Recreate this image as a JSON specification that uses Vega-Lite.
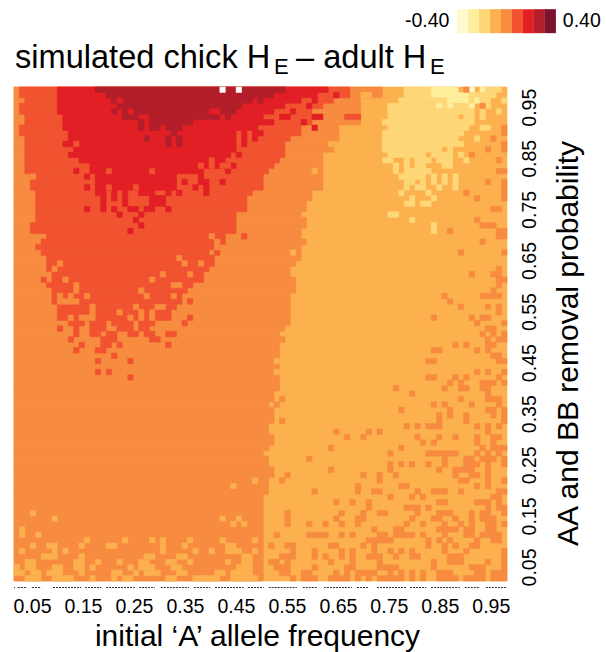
{"$schema":"https://vega.github.io/schema/vega-lite/v6.json","width":493,"height":494,"padding":{"left":13,"top":9,"right":0,"bottom":0},"background":"white","config":{"font":"Liberation Sans","view":{"stroke":null}},
"layer":[
{"mark":{"type":"rect","strokeWidth":0.6},"data":{"values":[
{"x":5,"x2":96,"y":5,"y2":96,"c":4},
{"x":5,"x2":73,"y":94,"y2":96,"c":5},{"x":5,"x2":69,"y":89,"y2":94,"c":5},{"x":5,"x2":65,"y":86,"y2":89,"c":5},{"x":5,"x2":64,"y":84,"y2":86,"c":5},{"x":5,"x2":62,"y":77,"y2":84,"c":5},{"x":5,"x2":60,"y":75,"y2":77,"c":5},{"x":5,"x2":59,"y":73,"y2":75,"c":5},{"x":5,"x2":58,"y":72,"y2":73,"c":5},{"x":5,"x2":59,"y":70,"y2":72,"c":5},{"x":5,"x2":58,"y":68,"y2":70,"c":5},{"x":5,"x2":59,"y":67,"y2":68,"c":5},{"x":5,"x2":58,"y":64,"y2":67,"c":5},{"x":5,"x2":57,"y":63,"y2":64,"c":5},{"x":5,"x2":56,"y":61,"y2":63,"c":5},{"x":5,"x2":57,"y":58,"y2":61,"c":5},{"x":5,"x2":56,"y":52,"y2":58,"c":5},{"x":5,"x2":55,"y":51,"y2":52,"c":5},{"x":5,"x2":54,"y":50,"y2":51,"c":5},{"x":5,"x2":55,"y":49,"y2":50,"c":5},{"x":5,"x2":54,"y":40,"y2":49,"c":5},{"x":5,"x2":53,"y":38,"y2":40,"c":5},{"x":5,"x2":52,"y":37,"y2":38,"c":5},{"x":5,"x2":53,"y":34,"y2":37,"c":5},{"x":5,"x2":52,"y":32,"y2":34,"c":5},{"x":5,"x2":53,"y":30,"y2":32,"c":5},{"x":5,"x2":52,"y":29,"y2":30,"c":5},{"x":5,"x2":51,"y":28,"y2":29,"c":5},{"x":5,"x2":52,"y":26,"y2":28,"c":5},{"x":5,"x2":53,"y":24,"y2":26,"c":5},{"x":5,"x2":52,"y":21,"y2":24,"c":5},{"x":5,"x2":51,"y":5,"y2":21,"c":5},
{"x":69,"x2":71,"y":94,"y2":95,"c":4},{"x":63,"x2":64,"y":85,"y2":86,"c":4},{"x":60,"x2":61,"y":80,"y2":81,"c":4},{"x":56,"x2":57,"y":65,"y2":66,"c":4},{"x":53,"x2":54,"y":45,"y2":46,"c":4},{"x":53,"x2":54,"y":43,"y2":44,"c":4},
{"x":45,"x2":46,"y":22,"y2":23,"c":4},{"x":49,"x2":50,"y":23,"y2":24,"c":4},{"x":8,"x2":9,"y":17,"y2":18,"c":4},{"x":12,"x2":13,"y":16,"y2":17,"c":4},{"x":43,"x2":44,"y":16,"y2":17,"c":4},{"x":46,"x2":47,"y":16,"y2":17,"c":4},{"x":45,"x2":46,"y":15,"y2":16,"c":4},{"x":47,"x2":48,"y":15,"y2":16,"c":4},{"x":6,"x2":7,"y":14,"y2":15,"c":4},{"x":6,"x2":7,"y":13,"y2":14,"c":4},{"x":9,"x2":10,"y":13,"y2":14,"c":4},
{"x":18,"x2":19,"y":12,"y2":13,"c":4},{"x":25,"x2":26,"y":12,"y2":13,"c":4},{"x":30,"x2":31,"y":12,"y2":13,"c":4},{"x":32,"x2":33,"y":12,"y2":13,"c":4},{"x":37,"x2":38,"y":12,"y2":13,"c":4},{"x":43,"x2":44,"y":12,"y2":13,"c":4},{"x":49,"x2":50,"y":12,"y2":13,"c":4},
{"x":8,"x2":9,"y":11,"y2":12,"c":4},{"x":11,"x2":13,"y":11,"y2":12,"c":4},{"x":17,"x2":18,"y":11,"y2":12,"c":4},{"x":22,"x2":24,"y":11,"y2":12,"c":4},{"x":32,"x2":33,"y":11,"y2":12,"c":4},{"x":36,"x2":37,"y":11,"y2":12,"c":4},{"x":44,"x2":46,"y":11,"y2":12,"c":4},
{"x":6,"x2":7,"y":10,"y2":11,"c":4},{"x":12,"x2":13,"y":10,"y2":11,"c":4},{"x":14,"x2":15,"y":10,"y2":11,"c":4},{"x":32,"x2":33,"y":10,"y2":11,"c":4},{"x":38,"x2":39,"y":10,"y2":11,"c":4},{"x":41,"x2":42,"y":10,"y2":11,"c":4},{"x":44,"x2":47,"y":10,"y2":11,"c":4},{"x":49,"x2":50,"y":10,"y2":11,"c":4},
{"x":10,"x2":13,"y":9,"y2":10,"c":4},{"x":17,"x2":18,"y":9,"y2":10,"c":4},{"x":29,"x2":31,"y":9,"y2":10,"c":4},{"x":35,"x2":37,"y":9,"y2":10,"c":4},{"x":47,"x2":49,"y":9,"y2":10,"c":4},
{"x":7,"x2":9,"y":8,"y2":9,"c":4},{"x":16,"x2":18,"y":8,"y2":9,"c":4},{"x":20,"x2":21,"y":8,"y2":9,"c":4},{"x":24,"x2":25,"y":8,"y2":9,"c":4},{"x":28,"x2":30,"y":8,"y2":9,"c":4},{"x":33,"x2":35,"y":8,"y2":9,"c":4},{"x":37,"x2":38,"y":8,"y2":9,"c":4},{"x":44,"x2":45,"y":8,"y2":9,"c":4},{"x":47,"x2":49,"y":8,"y2":9,"c":4},
{"x":5,"x2":6,"y":7,"y2":8,"c":4},{"x":7,"x2":9,"y":7,"y2":8,"c":4},{"x":12,"x2":14,"y":7,"y2":8,"c":4},{"x":16,"x2":18,"y":7,"y2":8,"c":4},{"x":19,"x2":20,"y":7,"y2":8,"c":4},{"x":26,"x2":27,"y":7,"y2":8,"c":4},{"x":28,"x2":31,"y":7,"y2":8,"c":4},{"x":34,"x2":36,"y":7,"y2":8,"c":4},{"x":46,"x2":49,"y":7,"y2":8,"c":4},
{"x":5,"x2":7,"y":6,"y2":7,"c":4},{"x":8,"x2":10,"y":6,"y2":7,"c":4},{"x":11,"x2":14,"y":6,"y2":7,"c":4},{"x":17,"x2":18,"y":6,"y2":7,"c":4},{"x":23,"x2":25,"y":6,"y2":7,"c":4},{"x":27,"x2":28,"y":6,"y2":7,"c":4},{"x":29,"x2":32,"y":6,"y2":7,"c":4},{"x":35,"x2":37,"y":6,"y2":7,"c":4},{"x":42,"x2":44,"y":6,"y2":7,"c":4},{"x":45,"x2":49,"y":6,"y2":7,"c":4},
{"x":7,"x2":10,"y":5,"y2":6,"c":4},{"x":12,"x2":16,"y":5,"y2":6,"c":4},{"x":19,"x2":20,"y":5,"y2":6,"c":4},{"x":23,"x2":24,"y":5,"y2":6,"c":4},{"x":25,"x2":27,"y":5,"y2":6,"c":4},{"x":33,"x2":35,"y":5,"y2":6,"c":4},{"x":38,"x2":43,"y":5,"y2":6,"c":4},{"x":45,"x2":50,"y":5,"y2":6,"c":4},
{"x":77,"x2":82,"y":95,"y2":96,"c":3},{"x":82,"x2":87,"y":95,"y2":96,"c":2},{"x":89,"x2":90,"y":95,"y2":96,"c":1},{"x":91,"x2":92,"y":95,"y2":96,"c":2},{"x":92,"x2":95,"y":95,"y2":96,"c":3},
{"x":77,"x2":82,"y":94,"y2":95,"c":3},{"x":82,"x2":89,"y":94,"y2":95,"c":2},{"x":89,"x2":94,"y":94,"y2":95,"c":3},
{"x":76,"x2":85,"y":93,"y2":94,"c":3},{"x":85,"x2":89,"y":93,"y2":94,"c":2},{"x":89,"x2":90,"y":93,"y2":94,"c":3},{"x":90,"x2":91,"y":93,"y2":94,"c":2},{"x":91,"x2":93,"y":93,"y2":94,"c":3},{"x":95,"x2":96,"y":93,"y2":94,"c":3},
{"x":74,"x2":89,"y":92,"y2":93,"c":3},{"x":83,"x2":84,"y":92,"y2":93,"c":2},{"x":85,"x2":86,"y":92,"y2":93,"c":2},{"x":89,"x2":90,"y":92,"y2":93,"c":2},{"x":92,"x2":93,"y":92,"y2":93,"c":3},
{"x":74,"x2":90,"y":91,"y2":92,"c":3},{"x":91,"x2":92,"y":91,"y2":92,"c":3},{"x":94,"x2":95,"y":91,"y2":92,"c":3},
{"x":74,"x2":87,"y":90,"y2":91,"c":3},{"x":88,"x2":90,"y":90,"y2":91,"c":3},{"x":91,"x2":92,"y":90,"y2":91,"c":3},
{"x":73,"x2":90,"y":89,"y2":90,"c":3},{"x":74,"x2":89,"y":88,"y2":89,"c":3},{"x":91,"x2":93,"y":88,"y2":89,"c":3},{"x":73,"x2":88,"y":87,"y2":88,"c":3},{"x":73,"x2":87,"y":86,"y2":87,"c":3},{"x":90,"x2":91,"y":86,"y2":87,"c":3},{"x":73,"x2":88,"y":85,"y2":86,"c":3},{"x":73,"x2":84,"y":84,"y2":85,"c":3},{"x":85,"x2":86,"y":84,"y2":85,"c":3},
{"x":74,"x2":81,"y":83,"y2":84,"c":3},{"x":82,"x2":86,"y":83,"y2":84,"c":3},{"x":87,"x2":88,"y":83,"y2":84,"c":3},
{"x":73,"x2":75,"y":82,"y2":83,"c":3},{"x":77,"x2":78,"y":82,"y2":83,"c":3},{"x":79,"x2":82,"y":82,"y2":83,"c":3},{"x":83,"x2":84,"y":82,"y2":83,"c":3},{"x":84,"x2":86,"y":82,"y2":83,"c":3},{"x":88,"x2":89,"y":82,"y2":83,"c":3},
{"x":75,"x2":76,"y":81,"y2":82,"c":3},{"x":77,"x2":78,"y":81,"y2":82,"c":3},{"x":79,"x2":81,"y":81,"y2":82,"c":3},{"x":84,"x2":86,"y":81,"y2":82,"c":3},
{"x":75,"x2":76,"y":80,"y2":81,"c":3},{"x":77,"x2":82,"y":80,"y2":81,"c":3},
{"x":76,"x2":81,"y":79,"y2":80,"c":3},{"x":82,"x2":83,"y":79,"y2":80,"c":3},{"x":84,"x2":85,"y":79,"y2":80,"c":3},{"x":86,"x2":87,"y":79,"y2":80,"c":3},
{"x":77,"x2":79,"y":78,"y2":79,"c":3},{"x":80,"x2":81,"y":78,"y2":79,"c":3},{"x":82,"x2":83,"y":78,"y2":79,"c":3},{"x":84,"x2":85,"y":78,"y2":79,"c":3},{"x":86,"x2":87,"y":78,"y2":79,"c":3},
{"x":77,"x2":78,"y":77,"y2":78,"c":3},{"x":79,"x2":81,"y":77,"y2":78,"c":3},{"x":83,"x2":84,"y":77,"y2":78,"c":3},{"x":86,"x2":87,"y":77,"y2":78,"c":3},
{"x":76,"x2":77,"y":76,"y2":77,"c":3},{"x":81,"x2":82,"y":76,"y2":77,"c":3},{"x":78,"x2":79,"y":75,"y2":76,"c":3},{"x":82,"x2":83,"y":75,"y2":76,"c":3},{"x":77,"x2":79,"y":74,"y2":75,"c":3},{"x":80,"x2":82,"y":74,"y2":75,"c":3},{"x":74,"x2":76,"y":72,"y2":73,"c":3},{"x":78,"x2":79,"y":71,"y2":72,"c":3},{"x":82,"x2":83,"y":70,"y2":71,"c":3},{"x":82,"x2":83,"y":69,"y2":70,"c":3},
{"x":88,"x2":89,"y":95,"y2":96,"c":5},{"x":91,"x2":92,"y":92,"y2":93,"c":5},{"x":95,"x2":96,"y":88,"y2":89,"c":5},{"x":95,"x2":96,"y":87,"y2":88,"c":5},{"x":93,"x2":94,"y":86,"y2":87,"c":5},{"x":95,"x2":96,"y":85,"y2":86,"c":5},{"x":92,"x2":93,"y":84,"y2":85,"c":5},{"x":95,"x2":96,"y":84,"y2":85,"c":5},{"x":89,"x2":90,"y":83,"y2":84,"c":5},{"x":94,"x2":95,"y":82,"y2":83,"c":5},{"x":94,"x2":96,"y":80,"y2":81,"c":5},{"x":92,"x2":93,"y":78,"y2":79,"c":5},{"x":95,"x2":96,"y":78,"y2":79,"c":5},{"x":95,"x2":96,"y":77,"y2":78,"c":5},{"x":88,"x2":89,"y":76,"y2":77,"c":5},{"x":95,"x2":96,"y":76,"y2":77,"c":5},{"x":90,"x2":91,"y":75,"y2":76,"c":5},{"x":95,"x2":96,"y":75,"y2":76,"c":5},
{"x":93,"x2":95,"y":73,"y2":74,"c":5},{"x":90,"x2":91,"y":71,"y2":72,"c":5},{"x":91,"x2":94,"y":70,"y2":71,"c":5},{"x":85,"x2":86,"y":69,"y2":70,"c":5},{"x":94,"x2":96,"y":69,"y2":70,"c":5},{"x":94,"x2":96,"y":68,"y2":69,"c":5},{"x":91,"x2":92,"y":67,"y2":68,"c":5},{"x":87,"x2":88,"y":65,"y2":66,"c":5},{"x":95,"x2":96,"y":65,"y2":66,"c":5},{"x":94,"x2":95,"y":62,"y2":63,"c":5},{"x":89,"x2":90,"y":61,"y2":62,"c":5},{"x":93,"x2":95,"y":61,"y2":62,"c":5},{"x":94,"x2":96,"y":60,"y2":61,"c":5},{"x":94,"x2":95,"y":59,"y2":60,"c":5},{"x":93,"x2":94,"y":58,"y2":59,"c":5},{"x":84,"x2":85,"y":57,"y2":58,"c":5},{"x":91,"x2":95,"y":57,"y2":58,"c":5},{"x":85,"x2":86,"y":56,"y2":57,"c":5},{"x":87,"x2":88,"y":55,"y2":56,"c":5},{"x":92,"x2":93,"y":55,"y2":56,"c":5},{"x":94,"x2":95,"y":55,"y2":56,"c":5},{"x":94,"x2":95,"y":54,"y2":55,"c":5},{"x":82,"x2":83,"y":53,"y2":54,"c":5},{"x":89,"x2":90,"y":53,"y2":54,"c":5},{"x":91,"x2":93,"y":53,"y2":54,"c":5},{"x":90,"x2":91,"y":52,"y2":53,"c":5},{"x":95,"x2":96,"y":52,"y2":53,"c":5},{"x":92,"x2":94,"y":51,"y2":52,"c":5},{"x":91,"x2":92,"y":50,"y2":51,"c":5},{"x":93,"x2":94,"y":50,"y2":51,"c":5},{"x":95,"x2":96,"y":50,"y2":51,"c":5},{"x":92,"x2":93,"y":49,"y2":50,"c":5},{"x":94,"x2":96,"y":49,"y2":50,"c":5},{"x":86,"x2":87,"y":48,"y2":49,"c":5},{"x":88,"x2":89,"y":48,"y2":49,"c":5},{"x":92,"x2":94,"y":48,"y2":49,"c":5},{"x":82,"x2":84,"y":47,"y2":48,"c":5},{"x":90,"x2":91,"y":47,"y2":48,"c":5},{"x":92,"x2":93,"y":47,"y2":48,"c":5},{"x":93,"x2":95,"y":46,"y2":47,"c":5},{"x":81,"x2":83,"y":45,"y2":46,"c":5},{"x":94,"x2":96,"y":45,"y2":46,"c":5},{"x":90,"x2":91,"y":43,"y2":44,"c":5},{"x":92,"x2":93,"y":43,"y2":44,"c":5},{"x":95,"x2":96,"y":43,"y2":44,"c":5},{"x":81,"x2":83,"y":42,"y2":43,"c":5},{"x":86,"x2":87,"y":42,"y2":43,"c":5},{"x":88,"x2":89,"y":42,"y2":43,"c":5},{"x":94,"x2":95,"y":42,"y2":43,"c":5},{"x":85,"x2":86,"y":41,"y2":42,"c":5},{"x":87,"x2":88,"y":41,"y2":42,"c":5},{"x":91,"x2":94,"y":41,"y2":42,"c":5},{"x":95,"x2":96,"y":41,"y2":42,"c":5},
{"x":75,"x2":76,"y":40,"y2":41,"c":5},{"x":84,"x2":85,"y":40,"y2":41,"c":5},{"x":87,"x2":89,"y":40,"y2":41,"c":5},{"x":91,"x2":93,"y":40,"y2":41,"c":5},{"x":78,"x2":79,"y":39,"y2":40,"c":5},{"x":92,"x2":93,"y":39,"y2":40,"c":5},{"x":54,"x2":55,"y":38,"y2":39,"c":5},{"x":87,"x2":88,"y":38,"y2":39,"c":5},{"x":92,"x2":95,"y":38,"y2":39,"c":5},{"x":53,"x2":54,"y":37,"y2":38,"c":5},{"x":82,"x2":83,"y":37,"y2":38,"c":5},{"x":84,"x2":85,"y":37,"y2":38,"c":5},{"x":89,"x2":90,"y":37,"y2":38,"c":5},{"x":94,"x2":95,"y":37,"y2":38,"c":5},{"x":76,"x2":77,"y":36,"y2":37,"c":5},{"x":85,"x2":86,"y":36,"y2":37,"c":5},{"x":92,"x2":94,"y":36,"y2":37,"c":5},{"x":95,"x2":96,"y":36,"y2":37,"c":5},{"x":83,"x2":84,"y":35,"y2":36,"c":5},{"x":85,"x2":86,"y":35,"y2":36,"c":5},{"x":88,"x2":89,"y":35,"y2":36,"c":5},{"x":93,"x2":94,"y":35,"y2":36,"c":5},{"x":95,"x2":96,"y":35,"y2":36,"c":5},{"x":54,"x2":55,"y":34,"y2":35,"c":5},{"x":83,"x2":84,"y":34,"y2":35,"c":5},{"x":88,"x2":89,"y":34,"y2":35,"c":5},{"x":95,"x2":96,"y":34,"y2":35,"c":5},{"x":77,"x2":78,"y":33,"y2":34,"c":5},{"x":79,"x2":80,"y":33,"y2":34,"c":5},{"x":81,"x2":84,"y":33,"y2":34,"c":5},{"x":90,"x2":91,"y":33,"y2":34,"c":5},{"x":92,"x2":93,"y":33,"y2":34,"c":5},{"x":94,"x2":95,"y":33,"y2":34,"c":5},{"x":64,"x2":65,"y":32,"y2":33,"c":5},{"x":70,"x2":71,"y":32,"y2":33,"c":5},{"x":72,"x2":73,"y":32,"y2":33,"c":5},{"x":92,"x2":93,"y":32,"y2":33,"c":5},{"x":66,"x2":67,"y":31,"y2":32,"c":5},{"x":69,"x2":70,"y":31,"y2":32,"c":5},{"x":79,"x2":80,"y":31,"y2":32,"c":5},{"x":83,"x2":84,"y":31,"y2":32,"c":5},{"x":86,"x2":87,"y":31,"y2":32,"c":5},{"x":90,"x2":91,"y":31,"y2":32,"c":5},{"x":93,"x2":95,"y":31,"y2":32,"c":5},{"x":80,"x2":81,"y":30,"y2":31,"c":5},{"x":82,"x2":83,"y":30,"y2":31,"c":5},{"x":90,"x2":91,"y":30,"y2":31,"c":5},{"x":93,"x2":94,"y":30,"y2":31,"c":5},{"x":63,"x2":64,"y":29,"y2":30,"c":5},{"x":76,"x2":77,"y":29,"y2":30,"c":5},{"x":91,"x2":92,"y":29,"y2":30,"c":5},{"x":93,"x2":96,"y":29,"y2":30,"c":5},{"x":74,"x2":75,"y":28,"y2":29,"c":5},{"x":81,"x2":87,"y":28,"y2":29,"c":5},{"x":90,"x2":91,"y":28,"y2":29,"c":5},{"x":92,"x2":93,"y":28,"y2":29,"c":5},{"x":94,"x2":95,"y":28,"y2":29,"c":5},{"x":59,"x2":60,"y":27,"y2":28,"c":5},{"x":84,"x2":85,"y":27,"y2":28,"c":5},{"x":88,"x2":90,"y":27,"y2":28,"c":5},{"x":91,"x2":94,"y":27,"y2":28,"c":5},{"x":95,"x2":96,"y":27,"y2":28,"c":5},
{"x":74,"x2":75,"y":26,"y2":27,"c":5},{"x":76,"x2":77,"y":26,"y2":27,"c":5},{"x":78,"x2":79,"y":26,"y2":27,"c":5},{"x":81,"x2":82,"y":26,"y2":27,"c":5},{"x":84,"x2":85,"y":26,"y2":27,"c":5},{"x":88,"x2":91,"y":26,"y2":27,"c":5},{"x":92,"x2":93,"y":26,"y2":27,"c":5},{"x":95,"x2":96,"y":26,"y2":27,"c":5},
{"x":63,"x2":64,"y":25,"y2":26,"c":5},{"x":74,"x2":75,"y":25,"y2":26,"c":5},{"x":83,"x2":84,"y":25,"y2":26,"c":5},{"x":86,"x2":90,"y":25,"y2":26,"c":5},{"x":92,"x2":93,"y":25,"y2":26,"c":5},
{"x":55,"x2":56,"y":24,"y2":25,"c":5},{"x":69,"x2":70,"y":24,"y2":25,"c":5},{"x":72,"x2":73,"y":24,"y2":25,"c":5},{"x":75,"x2":76,"y":24,"y2":25,"c":5},{"x":86,"x2":87,"y":24,"y2":25,"c":5},{"x":89,"x2":91,"y":24,"y2":25,"c":5},{"x":92,"x2":93,"y":24,"y2":25,"c":5},
{"x":54,"x2":55,"y":23,"y2":24,"c":5},{"x":72,"x2":73,"y":23,"y2":24,"c":5},{"x":87,"x2":89,"y":23,"y2":24,"c":5},{"x":92,"x2":93,"y":23,"y2":24,"c":5},{"x":95,"x2":96,"y":23,"y2":24,"c":5},
{"x":68,"x2":69,"y":22,"y2":23,"c":5},{"x":76,"x2":78,"y":22,"y2":23,"c":5},{"x":90,"x2":91,"y":22,"y2":23,"c":5},{"x":92,"x2":93,"y":22,"y2":23,"c":5},
{"x":60,"x2":61,"y":21,"y2":22,"c":5},{"x":68,"x2":69,"y":21,"y2":22,"c":5},{"x":71,"x2":73,"y":21,"y2":22,"c":5},{"x":79,"x2":80,"y":21,"y2":22,"c":5},{"x":82,"x2":85,"y":21,"y2":22,"c":5},{"x":87,"x2":88,"y":21,"y2":22,"c":5},{"x":94,"x2":96,"y":21,"y2":22,"c":5},
{"x":74,"x2":75,"y":20,"y2":21,"c":5},{"x":78,"x2":79,"y":20,"y2":21,"c":5},{"x":80,"x2":81,"y":20,"y2":21,"c":5},{"x":93,"x2":95,"y":20,"y2":21,"c":5},
{"x":64,"x2":65,"y":19,"y2":20,"c":5},{"x":67,"x2":68,"y":19,"y2":20,"c":5},{"x":70,"x2":71,"y":19,"y2":20,"c":5},{"x":83,"x2":85,"y":19,"y2":20,"c":5},{"x":90,"x2":93,"y":19,"y2":20,"c":5},{"x":94,"x2":95,"y":19,"y2":20,"c":5},
{"x":70,"x2":71,"y":18,"y2":19,"c":5},{"x":77,"x2":80,"y":18,"y2":19,"c":5},{"x":81,"x2":82,"y":18,"y2":19,"c":5},{"x":92,"x2":93,"y":18,"y2":19,"c":5},{"x":94,"x2":96,"y":18,"y2":19,"c":5},
{"x":55,"x2":56,"y":17,"y2":18,"c":5},{"x":65,"x2":66,"y":17,"y2":18,"c":5},{"x":69,"x2":70,"y":17,"y2":18,"c":5},{"x":72,"x2":74,"y":17,"y2":18,"c":5},{"x":79,"x2":80,"y":17,"y2":18,"c":5},{"x":83,"x2":86,"y":17,"y2":18,"c":5},{"x":89,"x2":90,"y":17,"y2":18,"c":5},{"x":91,"x2":93,"y":17,"y2":18,"c":5},{"x":95,"x2":96,"y":17,"y2":18,"c":5},
{"x":55,"x2":56,"y":16,"y2":17,"c":5},{"x":64,"x2":65,"y":16,"y2":17,"c":5},{"x":68,"x2":70,"y":16,"y2":17,"c":5},{"x":78,"x2":79,"y":16,"y2":17,"c":5},{"x":82,"x2":84,"y":16,"y2":17,"c":5},{"x":86,"x2":87,"y":16,"y2":17,"c":5},{"x":89,"x2":90,"y":16,"y2":17,"c":5},{"x":91,"x2":94,"y":16,"y2":17,"c":5},
{"x":55,"x2":56,"y":15,"y2":16,"c":5},{"x":59,"x2":60,"y":15,"y2":16,"c":5},{"x":62,"x2":63,"y":15,"y2":16,"c":5},{"x":65,"x2":66,"y":15,"y2":16,"c":5},{"x":68,"x2":69,"y":15,"y2":16,"c":5},{"x":77,"x2":78,"y":15,"y2":16,"c":5},{"x":80,"x2":81,"y":15,"y2":16,"c":5},{"x":84,"x2":85,"y":15,"y2":16,"c":5},{"x":87,"x2":88,"y":15,"y2":16,"c":5},{"x":89,"x2":90,"y":15,"y2":16,"c":5},{"x":92,"x2":94,"y":15,"y2":16,"c":5},{"x":95,"x2":96,"y":15,"y2":16,"c":5},
{"x":71,"x2":72,"y":14,"y2":15,"c":5},{"x":75,"x2":77,"y":14,"y2":15,"c":5},{"x":83,"x2":87,"y":14,"y2":15,"c":5},{"x":88,"x2":90,"y":14,"y2":15,"c":5},{"x":92,"x2":94,"y":14,"y2":15,"c":5},
{"x":53,"x2":54,"y":13,"y2":14,"c":5},{"x":59,"x2":63,"y":13,"y2":14,"c":5},{"x":65,"x2":66,"y":13,"y2":14,"c":5},{"x":67,"x2":68,"y":13,"y2":14,"c":5},{"x":72,"x2":74,"y":13,"y2":14,"c":5},{"x":75,"x2":79,"y":13,"y2":14,"c":5},{"x":80,"x2":81,"y":13,"y2":14,"c":5},{"x":84,"x2":85,"y":13,"y2":14,"c":5},{"x":88,"x2":90,"y":13,"y2":14,"c":5},{"x":91,"x2":95,"y":13,"y2":14,"c":5},
{"x":70,"x2":75,"y":12,"y2":13,"c":5},{"x":81,"x2":82,"y":12,"y2":13,"c":5},{"x":83,"x2":84,"y":12,"y2":13,"c":5},{"x":85,"x2":86,"y":12,"y2":13,"c":5},{"x":90,"x2":91,"y":12,"y2":13,"c":5},{"x":93,"x2":95,"y":12,"y2":13,"c":5},
{"x":52,"x2":53,"y":11,"y2":12,"c":5},{"x":55,"x2":57,"y":11,"y2":12,"c":5},{"x":63,"x2":65,"y":11,"y2":12,"c":5},{"x":69,"x2":70,"y":11,"y2":12,"c":5},{"x":71,"x2":72,"y":11,"y2":12,"c":5},{"x":81,"x2":82,"y":11,"y2":12,"c":5},{"x":84,"x2":85,"y":11,"y2":12,"c":5},{"x":86,"x2":87,"y":11,"y2":12,"c":5},{"x":89,"x2":91,"y":11,"y2":12,"c":5},
{"x":56,"x2":57,"y":10,"y2":11,"c":5},{"x":60,"x2":61,"y":10,"y2":11,"c":5},{"x":65,"x2":66,"y":10,"y2":11,"c":5},{"x":67,"x2":68,"y":10,"y2":11,"c":5},{"x":71,"x2":72,"y":10,"y2":11,"c":5},{"x":74,"x2":75,"y":10,"y2":11,"c":5},{"x":76,"x2":77,"y":10,"y2":11,"c":5},{"x":78,"x2":79,"y":10,"y2":11,"c":5},{"x":84,"x2":85,"y":10,"y2":11,"c":5},{"x":88,"x2":89,"y":10,"y2":11,"c":5},{"x":95,"x2":96,"y":10,"y2":11,"c":5},
{"x":54,"x2":57,"y":9,"y2":10,"c":5},{"x":60,"x2":61,"y":9,"y2":10,"c":5},{"x":62,"x2":63,"y":9,"y2":10,"c":5},{"x":65,"x2":66,"y":9,"y2":10,"c":5},{"x":67,"x2":68,"y":9,"y2":10,"c":5},{"x":70,"x2":73,"y":9,"y2":10,"c":5},{"x":75,"x2":76,"y":9,"y2":10,"c":5},{"x":78,"x2":80,"y":9,"y2":10,"c":5},{"x":85,"x2":88,"y":9,"y2":10,"c":5},{"x":95,"x2":96,"y":9,"y2":10,"c":5},
{"x":52,"x2":54,"y":8,"y2":9,"c":5},{"x":55,"x2":56,"y":8,"y2":9,"c":5},{"x":63,"x2":64,"y":8,"y2":9,"c":5},{"x":67,"x2":68,"y":8,"y2":9,"c":5},{"x":72,"x2":73,"y":8,"y2":9,"c":5},{"x":82,"x2":83,"y":8,"y2":9,"c":5},{"x":85,"x2":88,"y":8,"y2":9,"c":5},{"x":92,"x2":93,"y":8,"y2":9,"c":5},{"x":95,"x2":96,"y":8,"y2":9,"c":5},
{"x":53,"x2":56,"y":7,"y2":8,"c":5},{"x":60,"x2":61,"y":7,"y2":8,"c":5},{"x":66,"x2":68,"y":7,"y2":8,"c":5},{"x":72,"x2":76,"y":7,"y2":8,"c":5},{"x":82,"x2":83,"y":7,"y2":8,"c":5},{"x":89,"x2":92,"y":7,"y2":8,"c":5},{"x":95,"x2":96,"y":7,"y2":8,"c":5},
{"x":54,"x2":56,"y":6,"y2":7,"c":5},{"x":58,"x2":60,"y":6,"y2":7,"c":5},{"x":64,"x2":65,"y":6,"y2":7,"c":5},{"x":66,"x2":67,"y":6,"y2":7,"c":5},{"x":68,"x2":72,"y":6,"y2":7,"c":5},{"x":74,"x2":75,"y":6,"y2":7,"c":5},{"x":76,"x2":77,"y":6,"y2":7,"c":5},{"x":78,"x2":79,"y":6,"y2":7,"c":5},{"x":80,"x2":81,"y":6,"y2":7,"c":5},{"x":83,"x2":86,"y":6,"y2":7,"c":5},{"x":90,"x2":92,"y":6,"y2":7,"c":5},{"x":93,"x2":96,"y":6,"y2":7,"c":5},
{"x":56,"x2":57,"y":5,"y2":6,"c":5},{"x":58,"x2":61,"y":5,"y2":6,"c":5},{"x":63,"x2":67,"y":5,"y2":6,"c":5},{"x":68,"x2":69,"y":5,"y2":6,"c":5},{"x":70,"x2":71,"y":5,"y2":6,"c":5},{"x":72,"x2":77,"y":5,"y2":6,"c":5},{"x":78,"x2":79,"y":5,"y2":6,"c":5},{"x":80,"x2":81,"y":5,"y2":6,"c":5},{"x":83,"x2":87,"y":5,"y2":6,"c":5},{"x":88,"x2":92,"y":5,"y2":6,"c":5},{"x":93,"x2":96,"y":5,"y2":6,"c":5},
{"x":6,"x2":67,"y":94,"y2":96,"c":6},{"x":7,"x2":64,"y":93,"y2":94,"c":6},{"x":6,"x2":62,"y":92,"y2":93,"c":6},{"x":6,"x2":60,"y":91,"y2":92,"c":6},{"x":7,"x2":62,"y":90,"y2":91,"c":6},{"x":7,"x2":60,"y":89,"y2":90,"c":6},{"x":6,"x2":58,"y":87,"y2":89,"c":6},{"x":7,"x2":56,"y":86,"y2":87,"c":6},{"x":7,"x2":55,"y":83,"y2":86,"c":6},{"x":7,"x2":54,"y":82,"y2":83,"c":6},{"x":7,"x2":53,"y":81,"y2":82,"c":6},{"x":7,"x2":52,"y":80,"y2":81,"c":6},{"x":8,"x2":51,"y":77,"y2":80,"c":6},{"x":9,"x2":49,"y":76,"y2":77,"c":6},{"x":9,"x2":48,"y":73,"y2":76,"c":6},{"x":9,"x2":46,"y":71,"y2":73,"c":6},{"x":8,"x2":46,"y":69,"y2":71,"c":6},{"x":11,"x2":44,"y":68,"y2":69,"c":6},{"x":10,"x2":44,"y":67,"y2":68,"c":6},{"x":9,"x2":43,"y":66,"y2":67,"c":6},{"x":10,"x2":41,"y":65,"y2":66,"c":6},{"x":11,"x2":42,"y":63,"y2":65,"c":6},{"x":11,"x2":41,"y":62,"y2":63,"c":6},{"x":12,"x2":40,"y":60,"y2":62,"c":6},{"x":11,"x2":38,"y":59,"y2":60,"c":6},{"x":12,"x2":37,"y":58,"y2":59,"c":6},{"x":12,"x2":36,"y":56,"y2":58,"c":6},{"x":13,"x2":35,"y":55,"y2":56,"c":6},{"x":13,"x2":34,"y":53,"y2":55,"c":6},
{"x":15,"x2":18,"y":52,"y2":53,"c":6},{"x":19,"x2":22,"y":52,"y2":53,"c":6},{"x":23,"x2":27,"y":52,"y2":53,"c":6},{"x":28,"x2":31,"y":52,"y2":53,"c":6},{"x":13,"x2":14,"y":51,"y2":52,"c":6},{"x":16,"x2":17,"y":51,"y2":52,"c":6},{"x":19,"x2":22,"y":51,"y2":52,"c":6},{"x":24,"x2":27,"y":51,"y2":52,"c":6},{"x":28,"x2":30,"y":51,"y2":52,"c":6},{"x":16,"x2":17,"y":50,"y2":51,"c":6},{"x":19,"x2":21,"y":50,"y2":51,"c":6},{"x":22,"x2":24,"y":50,"y2":51,"c":6},{"x":26,"x2":28,"y":50,"y2":51,"c":6},{"x":29,"x2":31,"y":50,"y2":51,"c":6},{"x":33,"x2":35,"y":50,"y2":51,"c":6},{"x":15,"x2":16,"y":49,"y2":50,"c":6},{"x":21,"x2":24,"y":49,"y2":50,"c":6},{"x":30,"x2":32,"y":49,"y2":50,"c":6},{"x":17,"x2":18,"y":48,"y2":49,"c":6},{"x":21,"x2":23,"y":48,"y2":49,"c":6},{"x":24,"x2":25,"y":48,"y2":49,"c":6},{"x":33,"x2":34,"y":48,"y2":49,"c":6},{"x":16,"x2":17,"y":47,"y2":48,"c":6},{"x":20,"x2":22,"y":47,"y2":48,"c":6},{"x":23,"x2":24,"y":46,"y2":47,"c":6},{"x":20,"x2":21,"y":45,"y2":46,"c":6},{"x":26,"x2":27,"y":45,"y2":46,"c":6},{"x":20,"x2":21,"y":43,"y2":44,"c":6},{"x":22,"x2":23,"y":43,"y2":44,"c":6},{"x":26,"x2":27,"y":42,"y2":43,"c":6},
{"x":37,"x2":38,"y":53,"y2":54,"c":6},{"x":36,"x2":37,"y":52,"y2":53,"c":6},{"x":37,"x2":38,"y":56,"y2":57,"c":6},{"x":47,"x2":48,"y":68,"y2":69,"c":6},{"x":42,"x2":43,"y":65,"y2":66,"c":6},{"x":66,"x2":67,"y":90,"y2":91,"c":6},{"x":67,"x2":69,"y":90,"y2":91,"c":6},{"x":10,"x2":11,"y":60,"y2":61,"c":6},
{"x":41,"x2":42,"y":68,"y2":69,"c":5},{"x":42,"x2":43,"y":67,"y2":68,"c":5},{"x":42,"x2":43,"y":66,"y2":67,"c":5},{"x":35,"x2":36,"y":64,"y2":65,"c":5},{"x":13,"x2":14,"y":63,"y2":64,"c":5},{"x":36,"x2":37,"y":63,"y2":64,"c":5},{"x":39,"x2":40,"y":63,"y2":64,"c":5},{"x":12,"x2":13,"y":62,"y2":63,"c":5},{"x":32,"x2":33,"y":61,"y2":62,"c":5},{"x":37,"x2":38,"y":61,"y2":62,"c":5},{"x":14,"x2":15,"y":60,"y2":61,"c":5},{"x":30,"x2":31,"y":60,"y2":61,"c":5},{"x":16,"x2":17,"y":59,"y2":60,"c":5},{"x":34,"x2":36,"y":59,"y2":60,"c":5},{"x":16,"x2":17,"y":58,"y2":59,"c":5},{"x":28,"x2":29,"y":58,"y2":59,"c":5},{"x":13,"x2":14,"y":57,"y2":58,"c":5},{"x":15,"x2":16,"y":57,"y2":58,"c":5},{"x":18,"x2":19,"y":57,"y2":58,"c":5},{"x":29,"x2":30,"y":57,"y2":58,"c":5},{"x":34,"x2":35,"y":57,"y2":58,"c":5},{"x":13,"x2":17,"y":56,"y2":57,"c":5},{"x":19,"x2":20,"y":55,"y2":56,"c":5},{"x":27,"x2":28,"y":55,"y2":56,"c":5},{"x":31,"x2":33,"y":55,"y2":56,"c":5},{"x":19,"x2":20,"y":54,"y2":55,"c":5},{"x":24,"x2":25,"y":54,"y2":55,"c":5},{"x":28,"x2":29,"y":54,"y2":55,"c":5},{"x":30,"x2":31,"y":54,"y2":55,"c":5},{"x":15,"x2":16,"y":53,"y2":54,"c":5},{"x":17,"x2":20,"y":53,"y2":54,"c":5},{"x":26,"x2":27,"y":53,"y2":54,"c":5},{"x":28,"x2":29,"y":53,"y2":54,"c":5},{"x":30,"x2":31,"y":53,"y2":54,"c":5},{"x":8,"x2":9,"y":79,"y2":80,"c":5},
{"x":13,"x2":63,"y":95,"y2":96,"c":7},{"x":13,"x2":61,"y":94,"y2":95,"c":7},{"x":64,"x2":65,"y":94,"y2":95,"c":7},{"x":13,"x2":58,"y":93,"y2":94,"c":7},{"x":60,"x2":61,"y":93,"y2":94,"c":7},{"x":13,"x2":55,"y":92,"y2":93,"c":7},{"x":59,"x2":60,"y":92,"y2":93,"c":7},{"x":13,"x2":53,"y":91,"y2":92,"c":7},{"x":56,"x2":57,"y":91,"y2":92,"c":7},{"x":14,"x2":51,"y":90,"y2":91,"c":7},{"x":54,"x2":56,"y":90,"y2":91,"c":7},{"x":60,"x2":62,"y":90,"y2":91,"c":7},{"x":14,"x2":53,"y":89,"y2":90,"c":7},{"x":58,"x2":59,"y":89,"y2":90,"c":7},{"x":14,"x2":50,"y":88,"y2":89,"c":7},{"x":60,"x2":61,"y":88,"y2":89,"c":7},{"x":15,"x2":46,"y":87,"y2":88,"c":7},{"x":47,"x2":48,"y":87,"y2":88,"c":7},{"x":49,"x2":51,"y":87,"y2":88,"c":7},{"x":15,"x2":46,"y":86,"y2":87,"c":7},{"x":47,"x2":48,"y":86,"y2":87,"c":7},{"x":49,"x2":50,"y":86,"y2":87,"c":7},{"x":14,"x2":46,"y":85,"y2":86,"c":7},{"x":47,"x2":48,"y":85,"y2":86,"c":7},{"x":16,"x2":46,"y":84,"y2":85,"c":7},{"x":16,"x2":45,"y":83,"y2":84,"c":7},{"x":15,"x2":16,"y":83,"y2":84,"c":7},{"x":46,"x2":47,"y":83,"y2":84,"c":7},{"x":17,"x2":44,"y":82,"y2":83,"c":7},{"x":19,"x2":46,"y":81,"y2":82,"c":7},{"x":19,"x2":40,"y":80,"y2":81,"c":7},{"x":16,"x2":17,"y":80,"y2":81,"c":7},{"x":44,"x2":45,"y":80,"y2":81,"c":7},{"x":21,"x2":35,"y":79,"y2":80,"c":7},{"x":18,"x2":19,"y":79,"y2":80,"c":7},{"x":20,"x2":21,"y":79,"y2":80,"c":7},{"x":39,"x2":40,"y":79,"y2":80,"c":7},{"x":20,"x2":35,"y":78,"y2":79,"c":7},{"x":36,"x2":37,"y":78,"y2":79,"c":7},{"x":39,"x2":41,"y":78,"y2":79,"c":7},{"x":43,"x2":44,"y":78,"y2":79,"c":7},{"x":20,"x2":35,"y":77,"y2":78,"c":7},{"x":18,"x2":19,"y":77,"y2":78,"c":7},{"x":38,"x2":39,"y":77,"y2":78,"c":7},{"x":40,"x2":41,"y":77,"y2":78,"c":7},
{"x":20,"x2":22,"y":76,"y2":77,"c":7},{"x":23,"x2":24,"y":76,"y2":77,"c":7},{"x":25,"x2":26,"y":76,"y2":77,"c":7},{"x":28,"x2":31,"y":76,"y2":77,"c":7},{"x":33,"x2":34,"y":76,"y2":77,"c":7},{"x":35,"x2":36,"y":76,"y2":77,"c":7},{"x":40,"x2":41,"y":76,"y2":77,"c":7},{"x":21,"x2":22,"y":75,"y2":76,"c":7},{"x":23,"x2":24,"y":75,"y2":76,"c":7},{"x":25,"x2":26,"y":75,"y2":76,"c":7},{"x":30,"x2":33,"y":75,"y2":76,"c":7},{"x":21,"x2":22,"y":74,"y2":75,"c":7},{"x":25,"x2":26,"y":74,"y2":75,"c":7},{"x":30,"x2":33,"y":74,"y2":75,"c":7},{"x":18,"x2":19,"y":73,"y2":74,"c":7},{"x":21,"x2":22,"y":73,"y2":74,"c":7},{"x":23,"x2":24,"y":73,"y2":74,"c":7},{"x":26,"x2":28,"y":73,"y2":74,"c":7},{"x":29,"x2":31,"y":73,"y2":74,"c":7},{"x":33,"x2":34,"y":73,"y2":74,"c":7},{"x":24,"x2":25,"y":72,"y2":73,"c":7},{"x":28,"x2":29,"y":72,"y2":73,"c":7},{"x":27,"x2":28,"y":71,"y2":72,"c":7},{"x":28,"x2":29,"y":70,"y2":71,"c":7},{"x":26,"x2":27,"y":69,"y2":70,"c":7},
{"x":16,"x2":17,"y":85,"y2":86,"c":6},{"x":41,"x2":42,"y":82,"y2":83,"c":6},{"x":39,"x2":40,"y":81,"y2":82,"c":6},{"x":41,"x2":42,"y":81,"y2":82,"c":6},{"x":43,"x2":45,"y":81,"y2":82,"c":6},{"x":22,"x2":23,"y":80,"y2":81,"c":6},{"x":30,"x2":31,"y":80,"y2":81,"c":6},{"x":22,"x2":23,"y":77,"y2":78,"c":6},{"x":27,"x2":28,"y":77,"y2":78,"c":6},
{"x":20,"x2":55,"y":95,"y2":96,"c":8},{"x":22,"x2":53,"y":94,"y2":95,"c":8},{"x":23,"x2":49,"y":93,"y2":94,"c":8},{"x":50,"x2":51,"y":93,"y2":94,"c":8},{"x":24,"x2":47,"y":92,"y2":93,"c":8},{"x":25,"x2":46,"y":91,"y2":92,"c":8},{"x":23,"x2":24,"y":91,"y2":92,"c":8},{"x":25,"x2":28,"y":90,"y2":91,"c":8},{"x":30,"x2":43,"y":90,"y2":91,"c":8},{"x":44,"x2":45,"y":90,"y2":91,"c":8},{"x":28,"x2":29,"y":89,"y2":90,"c":8},{"x":30,"x2":38,"y":89,"y2":90,"c":8},{"x":28,"x2":29,"y":88,"y2":89,"c":8},{"x":30,"x2":32,"y":88,"y2":89,"c":8},{"x":33,"x2":36,"y":88,"y2":89,"c":8},{"x":34,"x2":35,"y":87,"y2":88,"c":8},{"x":29,"x2":30,"y":86,"y2":87,"c":8},{"x":33,"x2":34,"y":86,"y2":87,"c":8},{"x":35,"x2":36,"y":86,"y2":87,"c":8},{"x":33,"x2":34,"y":85,"y2":86,"c":8},{"x":35,"x2":36,"y":85,"y2":86,"c":8},
{"x":24,"x2":25,"y":93,"y2":94,"c":7},{"x":26,"x2":27,"y":91,"y2":92,"c":7},{"x":41,"x2":43,"y":91,"y2":92,"c":7},
{"x":43,"x2":44,"y":95,"y2":96,"c":0},{"x":46,"x2":47,"y":95,"y2":96,"c":0}
]},
"encoding":{
"x":{"field":"x","type":"quantitative","scale":{"domain":[5,96],"nice":false,"zero":false},"axis":{"orient":"bottom","values":[8.32,17.73,27.14,36.55,45.96,55.37,64.78,74.19,83.6,93.01],"labelExpr":"format((round((datum.value-8.32)/9.41)*10+5)/100,'.2f')","title":"initial ‘A’ allele frequency","titleFontSize":30,"titleFontWeight":"normal","titleColor":"black","titlePadding":6,"titleX":243,"labelFontSize":19.5,"labelColor":"black","labelPadding":16,"labelOverlap":false,"labelFlush":false,"ticks":false,"domain":false,"grid":false}},
"x2":{"field":"x2"},
"y":{"field":"y","type":"quantitative","scale":{"domain":[5,96],"nice":false,"zero":false},"axis":{"orient":"right","values":[7.58,16.99,26.4,35.81,45.22,54.63,64.04,73.45,82.86,92.27],"labelExpr":"format((round((datum.value-7.58)/9.41)*10+5)/100,'.2f')","labelAngle":-90,"labelAlign":"center","labelBaseline":"middle","title":"AA and BB removal probability","titleAngle":-90,"titleFontSize":30,"titleFontWeight":"normal","titleColor":"black","titlePadding":45,"titleY":256,"labelFontSize":19.5,"labelColor":"black","labelPadding":22,"labelOverlap":false,"labelFlush":false,"ticks":false,"domain":false,"grid":false}},
"y2":{"field":"y2"},
"color":{"field":"c","type":"nominal","legend":null,"scale":{"domain":[0,1,2,3,4,5,6,7,8,9],"range":["#ffffff","#FFF9D0","#FEEF9D","#FDD778","#FCB04E","#F78B3F","#F15330","#E31F26","#B21F2A","#7C122E"]}},
"stroke":{"field":"c","type":"nominal","legend":null,"scale":{"domain":[0,1,2,3,4,5,6,7,8,9],"range":["#ffffff","#FFF9D0","#FEEF9D","#FDD778","#FCB04E","#F78B3F","#F15330","#E31F26","#B21F2A","#7C122E"]}}
}},
{"mark":{"type":"rect","strokeWidth":0},"data":{"values":[
{"x":86.76,"x2":88.79,"y":105.92,"y2":110.34,"c":1},{"x":88.79,"x2":90.82,"y":105.92,"y2":110.34,"c":2},{"x":90.82,"x2":92.85,"y":105.92,"y2":110.34,"c":3},{"x":92.85,"x2":94.88,"y":105.92,"y2":110.34,"c":4},{"x":94.88,"x2":96.91,"y":105.92,"y2":110.34,"c":5},{"x":96.91,"x2":98.94,"y":105.92,"y2":110.34,"c":6},{"x":98.94,"x2":100.97,"y":105.92,"y2":110.34,"c":7},{"x":100.97,"x2":103,"y":105.92,"y2":110.34,"c":8},{"x":103,"x2":105.03,"y":105.92,"y2":110.34,"c":9}
]},
"encoding":{"x":{"field":"x","type":"quantitative"},"x2":{"field":"x2"},"y":{"field":"y","type":"quantitative"},"y2":{"field":"y2"},"color":{"field":"c","type":"nominal","legend":null}}},
{"mark":{"type":"rule","color":"#333333","strokeWidth":1,"strokeDash":[2,1]},"data":{"values":[
{"x":5,"x2":5.2,"y":3.8},{"x":5.7,"x2":7.4,"y":3.8},{"x":8.3,"x2":10,"y":3.8},{"x":12.2,"x2":17.4,"y":3.8},{"x":18.1,"x2":21.1,"y":3.8},{"x":22,"x2":27.3,"y":3.8},{"x":28.1,"x2":31,"y":3.8},{"x":32.1,"x2":37.3,"y":3.8},{"x":38.2,"x2":41.2,"y":3.8},{"x":42.1,"x2":47.4,"y":3.8},{"x":48.2,"x2":51.1,"y":3.8},{"x":52,"x2":57.2,"y":3.8},{"x":58.3,"x2":60.9,"y":3.8},{"x":62.2,"x2":67.4,"y":3.8},{"x":68.3,"x2":70.4,"y":3.8},{"x":72,"x2":77.4,"y":3.8},{"x":78.1,"x2":81.1,"y":3.8},{"x":82,"x2":87.3,"y":3.8},{"x":88.2,"x2":91,"y":3.8},{"x":92.1,"x2":96,"y":3.8}
]},
"encoding":{"x":{"field":"x","type":"quantitative"},"x2":{"field":"x2"},"y":{"field":"y","type":"quantitative"}}},
{"mark":{"type":"text","align":"left","baseline":"alphabetic","color":"black"},"data":{"values":[
{"t":"simulated chick H","x":5.18,"y":99.47,"s":32.6},{"t":"E","x":52.99,"y":98.37,"s":22},{"t":"– adult H","x":57.05,"y":99.47,"s":32.6},{"t":"E","x":81.78,"y":98.37,"s":22},{"t":"-0.40","x":77.17,"y":107,"s":19.5},{"t":"0.40","x":106.3,"y":107,"s":19.5}
]},
"encoding":{"x":{"field":"x","type":"quantitative"},"y":{"field":"y","type":"quantitative"},"text":{"field":"t"},"size":{"field":"s","type":"quantitative","scale":null,"legend":null}}}
]}
